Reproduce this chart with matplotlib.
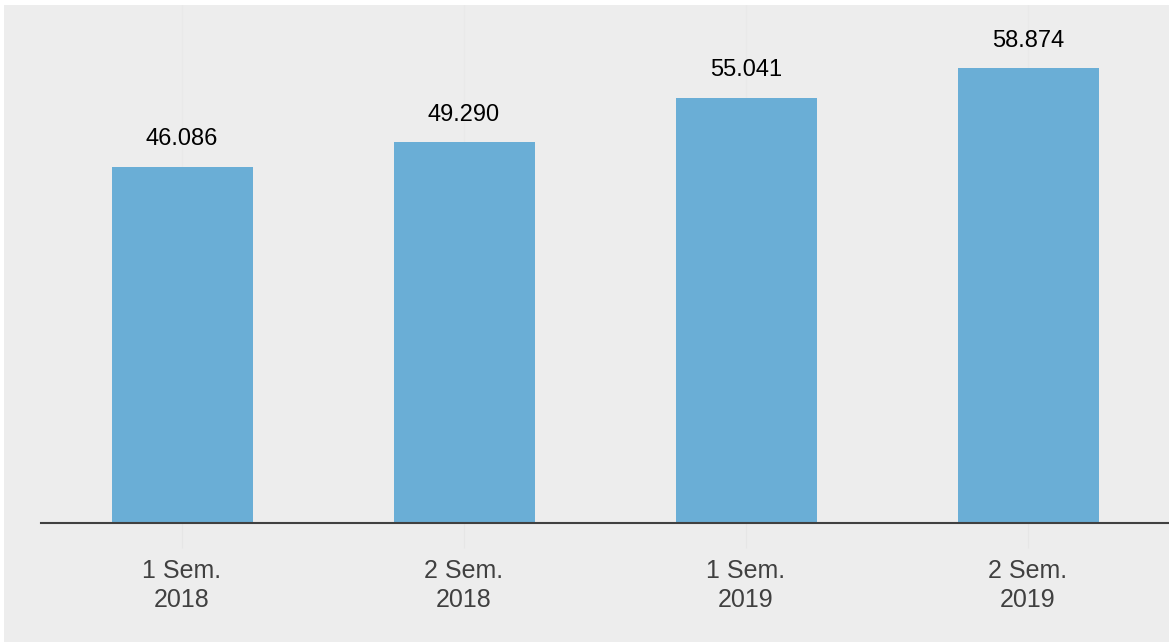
import matplotlib.pyplot as plt
from matplotlib.patches import Rectangle

categories = ["1 Sem.\n2018", "2 Sem.\n2018", "1 Sem.\n2019", "2 Sem.\n2019"]
values = [46.086, 49.290, 55.041, 58.874]
value_labels = ["46.086", "49.290", "55.041", "58.874"]

plt.rcParams['font.family'] = ['Liberation Sans', 'DejaVu Sans']

fig = plt.figure(figsize=(11.69, 6.42), dpi=100, facecolor='white')
# grey panel with a thin white border on top and left
fig.add_artist(Rectangle((4 / 1169, 0), 1, (642 - 5) / 642,
                         transform=fig.transFigure, facecolor='#ededed',
                         edgecolor='none', zorder=-10))

ax = fig.add_axes([41 / 1169, 119 / 642, 1 - 41 / 1169, 518 / 642])
ax.set_zorder(1)
ax.set_facecolor('none')

x = range(len(categories))
bars = ax.bar(x, values, width=0.5, color='#6aaed6', zorder=3)

for i, b in enumerate(bars):
    ax.annotate(value_labels[i], (b.get_x() + b.get_width() / 2, b.get_height()),
                xytext=(0, 12), textcoords='offset points',
                ha='center', va='bottom', fontsize=17, color='black')

ax.set_xlim(-0.5, 3.5)
ax.set_ylim(0, 67.06)
ax.set_xticks(list(x))
ax.set_xticklabels(categories, fontsize=18, color='#404040', linespacing=1.25)
ax.tick_params(axis='x', length=18, color='#e6e6e6', pad=8)
ax.set_yticks([])

# faint vertical grid at category centres
ax.grid(axis='x', color='#e9e9e9', linewidth=1, zorder=0)

for s in ['top', 'right', 'left']:
    ax.spines[s].set_visible(False)
ax.spines['bottom'].set_color('#404040')
ax.spines['bottom'].set_linewidth(1.5)
ax.spines['bottom'].set_zorder(4)

fig.savefig('out.png', dpi=100, facecolor=fig.get_facecolor())
